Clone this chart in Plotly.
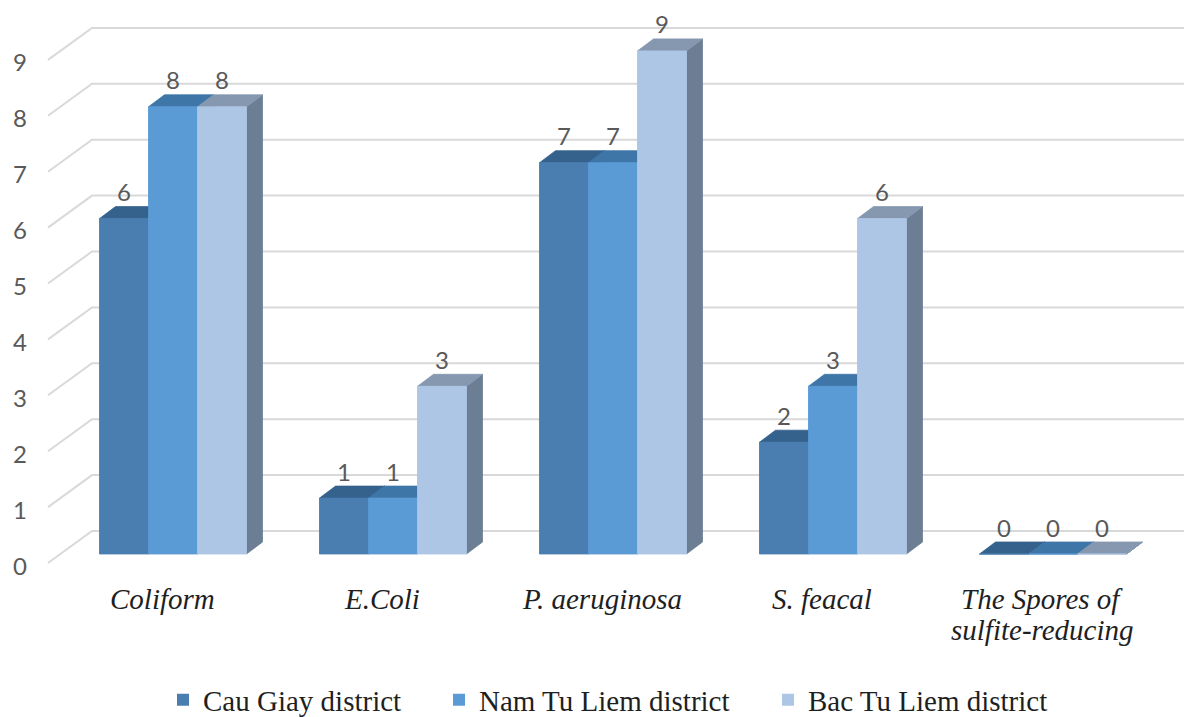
import plotly.graph_objects as go

# ---- data -------------------------------------------------------------
categories = ["Coliform", "E.Coli", "P. aeruginosa", "S. feacal",
              "The Spores of\nsulfite-reducing"]
series_names = ["Cau Giay district", "Nam Tu Liem district", "Bac Tu Liem district"]
cau_giay = [6, 1, 7, 2, 0]
nam_tu_liem = [8, 1, 7, 3, 0]
bac_tu_liem = [8, 3, 9, 6, 0]
y_ticks = [0, 1, 2, 3, 4, 5, 6, 7, 8, 9]

series_values = [cau_giay, nam_tu_liem, bac_tu_liem]

# face colours per series: front, top, side
front_colors = ["#4a7eb1", "#5b9bd5", "#adc6e5"]
top_colors = ["#35628d", "#3f76a8", "#8598b0"]
side_colors = ["#2f5578", "#3d6e9c", "#6c7e93"]

# ---- geometry (category units on x, value units on y) -------------------
W, H = 1184, 717
PX_PER_CAT = 220.0
PX_PER_UNIT = 55.9
CAT0_PX = 173.0
ZERO_PX = 554.0

x_range = [-CAT0_PX / PX_PER_CAT, (W - CAT0_PX) / PX_PER_CAT]
y_range = [-(H - ZERO_PX) / PX_PER_UNIT, ZERO_PX / PX_PER_UNIT]

BAR_W = 49.0 / PX_PER_CAT
GROUP_W = 3 * BAR_W
DX = 16.0 / PX_PER_CAT          # bar depth, horizontal
DY = 12.0 / PX_PER_UNIT         # bar depth, vertical
WALL_DY = 23.0 / PX_PER_UNIT    # back wall above bar front plane
FLOOR_DY = -9.0 / PX_PER_UNIT   # front floor edge below bar front plane
WALL_X = (92.0 - CAT0_PX) / PX_PER_CAT
FLOOR_X = (48.0 - CAT0_PX) / PX_PER_CAT

fig = go.Figure()

# plain bars carry the values and the legend entries
legend_ids = ["legend", "legend2", "legend3"]
for s, (name, vals) in enumerate(zip(series_names, series_values)):
    fig.add_trace(go.Bar(
        x=list(range(len(categories))), y=vals, name=name,
        marker=dict(color=front_colors[s], line=dict(width=0)),
        legend=legend_ids[s], hoverinfo="skip",
    ))


def poly_trace(polys, color):
    xs, ys = [], []
    for p in polys:
        for (px, py) in p:
            xs.append(px)
            ys.append(py)
        xs.append(p[0][0])
        ys.append(p[0][1])
        xs.append(None)
        ys.append(None)
    return go.Scatter(x=xs, y=ys, mode="lines", fill="toself",
                      fillcolor=color, line=dict(color=color, width=0.8),
                      showlegend=False, hoverinfo="skip")


# 3D faces, painted left to right so nearer faces cover farther ones
for s, vals in enumerate(series_values):
    sides, tops, fronts = [], [], []
    for i, v in enumerate(vals):
        x0 = i - GROUP_W / 2 + s * BAR_W
        x1 = x0 + BAR_W
        sides.append([(x1, 0), (x1 + DX, DY), (x1 + DX, v + DY), (x1, v)])
        tops.append([(x0, v), (x1, v), (x1 + DX, v + DY), (x0 + DX, v + DY)])
        fronts.append([(x0, 0), (x1, 0), (x1, v), (x0, v)])
    fig.add_trace(poly_trace(sides, side_colors[s]))
    fig.add_trace(poly_trace(tops, top_colors[s]))
    fig.add_trace(poly_trace(fronts, front_colors[s]))

# gridlines: slanted on the side wall, horizontal on the back wall
shapes = []
for t in y_ticks:
    path = "M {:.4f},{:.4f} L {:.4f},{:.4f} L {:.4f},{:.4f}".format(
        FLOOR_X, t + FLOOR_DY, WALL_X, t + WALL_DY, x_range[1], t + WALL_DY)
    shapes.append(dict(type="path", path=path, xref="x", yref="y",
                       layer="below", line=dict(color="#d9d9d9", width=2)))

annotations = []
num_font = dict(family="Lato", size=24, color="#595959")

# value axis labels
for t in y_ticks:
    annotations.append(dict(
        x=(20.0 - CAT0_PX) / PX_PER_CAT, y=t - 11.0 / PX_PER_UNIT,
        xref="x", yref="y", text=str(t), showarrow=False,
        xanchor="center", yanchor="middle", font=num_font))

# data labels above each bar
for s, vals in enumerate(series_values):
    for i, v in enumerate(vals):
        xc = i - GROUP_W / 2 + (s + 0.5) * BAR_W
        annotations.append(dict(
            x=xc, y=v + 27.0 / PX_PER_UNIT, xref="x", yref="y",
            text=str(v), showarrow=False, xanchor="center", yanchor="middle",
            font=num_font))

# category labels
cat_font = dict(family="Liberation Serif", size=29, color="#1f1f1f",
                style="italic")
for i, cat in enumerate(categories):
    for k, line in enumerate(cat.split("\n")):
        annotations.append(dict(
            x=i - 11.0 / PX_PER_CAT, y=-(45.0 + 31.0 * k) / PX_PER_UNIT,
            xref="x", yref="y", text=line, showarrow=False,
            xanchor="center", yanchor="middle", font=cat_font))

legend_font = dict(family="Liberation Serif", size=29, color="#1f1f1f")
legend_left_px = [163, 439, 768]
legend_cfg = {}
for lid, lx in zip(legend_ids, legend_left_px):
    legend_cfg[lid] = dict(
        x=lx / W, y=1 - 700.0 / H, xref="paper", yref="paper",
        xanchor="left", yanchor="middle", orientation="h",
        font=legend_font, bgcolor="rgba(0,0,0,0)", borderwidth=0,
    )

fig.update_layout(
    width=W, height=H,
    margin=dict(l=0, r=0, t=0, b=0, pad=0, autoexpand=False),
    paper_bgcolor="white", plot_bgcolor="white",
    barmode="group", bargap=1 - GROUP_W, bargroupgap=0,
    xaxis=dict(range=x_range, visible=False, fixedrange=True),
    yaxis=dict(range=y_range, visible=False, fixedrange=True),
    shapes=shapes, annotations=annotations,
    hovermode=False, showlegend=True,
    **legend_cfg,
)

fig.write_html("out.html", config={"displayModeBar": False})
